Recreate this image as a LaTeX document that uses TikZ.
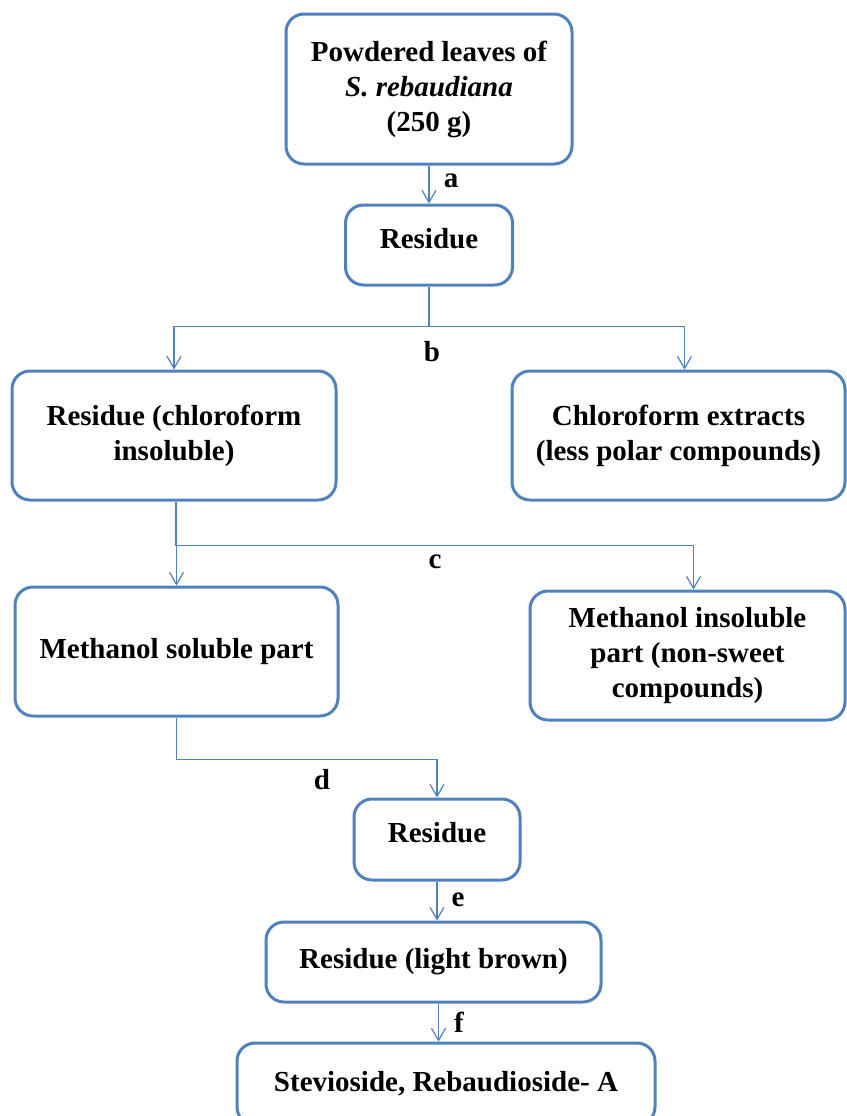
\documentclass[tikz,border=0pt]{standalone}
\usepackage{fontspec}
\setmainfont{Liberation Serif}
\usetikzlibrary{arrows.meta,positioning}
\definecolor{boxblue}{HTML}{4F81BD}

\begin{document}
\begin{tikzpicture}[x=0.5pt, y=-0.5pt]
    % Define styles
    \tikzset{
        stepbox/.style={draw=boxblue, line width=1.5pt, rounded corners=9pt, align=center, inner sep=2pt,
            font=\fontsize{14.5}{17.5}\selectfont\bfseries},
        steplabel/.style={inner sep=0pt, font=\fontsize{14.5}{17.5}\selectfont\bfseries},
        link/.style={draw=boxblue, line width=0.6pt},
        flow/.style={link, -{Straight Barb[length=6pt,width=7pt]}}
    }

    % Page frame
    \useasboundingbox (0,0) rectangle (847,1116);

    % Boxes
    \node[stepbox, minimum width=143pt, minimum height=75pt] (leaves) at (429,89)
        {Powdered leaves of\\ \textit{S. rebaudiana}\\ (250 g)};
    \node[stepbox, minimum width=83.5pt, minimum height=40pt, text depth=7pt] (res1) at (429,245) {Residue};
    \node[stepbox, minimum width=162pt, minimum height=64.5pt] (chlins) at (174,435.5)
        {Residue (chloroform\\ insoluble)};
    \node[stepbox, minimum width=166.5pt, minimum height=64.5pt] (chlext) at (678.5,435.5)
        {Chloroform extracts\\ (less polar compounds)};
    \node[stepbox, minimum width=161.5pt, minimum height=64.5pt] (methsol) at (176.5,651.5)
        {Methanol soluble part};
    \node[stepbox, minimum width=157.5pt, minimum height=64.5pt] (methins) at (687.5,655.5)
        {Methanol insoluble\\ part (non-sweet\\ compounds)};
    \node[stepbox, minimum width=83pt, minimum height=40.5pt, text depth=7pt] (res2) at (437,839.5) {Residue};
    \node[stepbox, minimum width=167.5pt, minimum height=40pt] (brown) at (433.5,962)
        {Residue (light brown)};
    \node[stepbox, minimum width=209pt, minimum height=41pt] (final) at (446,1084)
        {Stevioside, Rebaudioside- A};

    % Step labels
    \node[steplabel] (la) at (451,181) {a};
    \node[steplabel] (lb) at (432,352) {b};
    \node[steplabel] (lc) at (435,562) {c};
    \node[steplabel] (ld) at (322,780) {d};
    \node[steplabel] (le) at (458,900) {e};
    \node[steplabel] (lf) at (459,1022) {f};

    % Connectors
    \draw[flow] (leaves.south) -- (res1.north);
    \draw[link] (res1.south) -- ++(0,40) coordinate (jb);
    \draw[flow] (jb) -| (chlins.north);
    \draw[flow] (jb) -| ([xshift=3pt]chlext.north);
    \draw[link] ([xshift=1pt]chlins.south) -- ++(0,44) coordinate (jc);
    \draw[flow] (jc) -| (methsol.north);
    \draw[flow] (jc) -| ([xshift=3pt]methins.north);
    \draw[flow] (methsol.south) -- ++(0,42) -| (res2.north);
    \draw[flow] (res2.south) -- (res2.south |- brown.north);
    \draw[flow] ([xshift=2.5pt]brown.south) -- ([xshift=2.5pt]brown.south |- final.north);

\end{tikzpicture}
\end{document}
